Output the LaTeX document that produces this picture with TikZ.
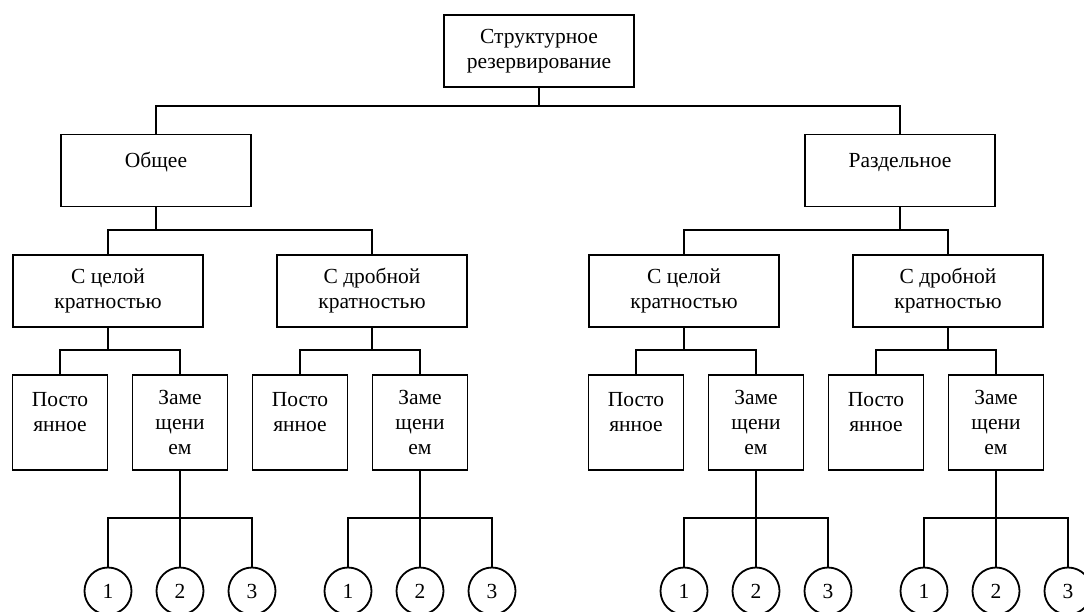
\documentclass[tikz,border=0pt]{standalone}
\usepackage{fontspec}
\setmainfont{Liberation Serif}
\begin{document}
\begin{tikzpicture}[x=1pt,y=1pt,
  every node/.style={font=\fontsize{21.5}{25}\selectfont, inner sep=0pt},
  wide/.style={draw, line width=1.8pt, minimum width=190pt, minimum height=72pt, align=center},
  narrow/.style={draw, line width=1.8pt, minimum width=95pt, minimum height=95pt, align=center},
  leaf/.style={draw, circle, line width=1.8pt, minimum size=47pt},
  link/.style={line width=1.8pt}]
\useasboundingbox (0,0) rectangle (1084,-611);
\clip (0,0) rectangle (1084,-611);

% root and first split
\node[wide] (root) at (539,-51) {Структурное\\резервирование};
\node[wide] (ob) at (156,-170.5) {Общее\\[-12pt]\strut};
\node[wide] (rz) at (900,-170.5) {Раздельное\\[-12pt]\strut};
\draw[link] (root.south) -- (root.south |- 0,-106);
\draw[link] (ob.north) -- ++(0,28) -| (rz.north);

% multiplicity level
\node[wide] (obA) at (108,-291) {С целой\\кратностью};
\node[wide] (obB) at (372,-291) {С дробной\\кратностью};
\node[wide] (rzA) at (684,-291) {С целой\\кратностью};
\node[wide] (rzB) at (948,-291) {С дробной\\кратностью};
\draw[link] (ob.south) -- (ob.south |- 0,-231);
\draw[link] (obA.north) -- ++(0,24) -| (obB.north);
\draw[link] (rz.south) -- (rz.south |- 0,-231);
\draw[link] (rzA.north) -- ++(0,24) -| (rzB.north);

% mode level and reserve units (p = permanent box centre, z = substitution box centre)
\foreach \g/\p/\z in {obA/60/180, obB/300/420, rzA/636/756, rzB/876/996} {
  \node[narrow] (\g p) at (\p,-422.5) {Посто\\янное\\[-12pt]\strut};
  \node[narrow] (\g z) at (\z,-422.5) {Заме\\щени\\ем};
  \draw[link] (\g.south) -- (\g.south |- 0,-351);
  \draw[link] (\g p.north) -- ++(0,24) -| (\g z.north);
  \node[leaf] (\g 1) at (\z-72,-591) {1};
  \node[leaf] (\g 2) at (\z,-591) {2};
  \node[leaf] (\g 3) at (\z+72,-591) {3};
  \draw[link] (\g z.south) -- (\g 2.north);
  \draw[link] (\g 1.north) -- ++(0,49) -| (\g 3.north);
}
\end{tikzpicture}
\end{document}
